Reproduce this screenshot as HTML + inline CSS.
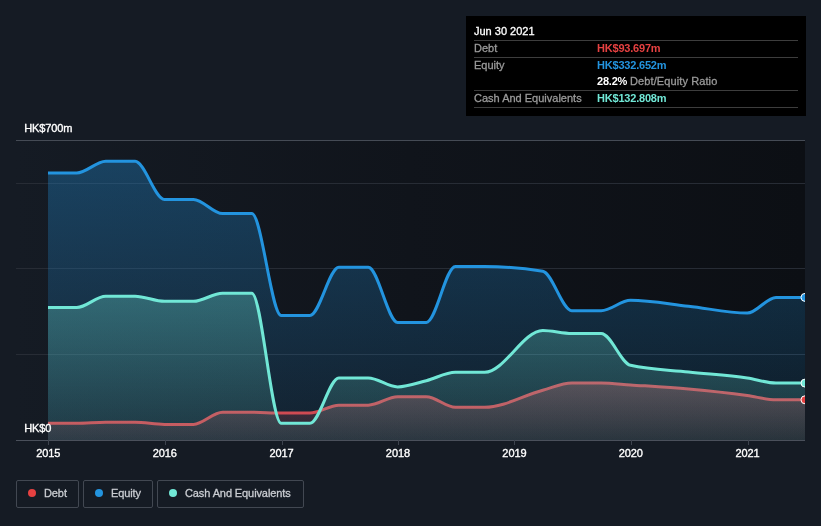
<!DOCTYPE html>
<html><head><meta charset="utf-8"><title>Debt Equity History</title>
<style>
html,body{margin:0;padding:0;background:#151b24;}
body{width:821px;height:526px;overflow:hidden;position:relative;font-family:"Liberation Sans",sans-serif;}
svg{position:absolute;left:0;top:0;display:block}
svg text{font-family:"Liberation Sans",sans-serif;}
.ax{font-size:11px;fill:#ffffff;font-weight:400;stroke:#ffffff;stroke-width:0.35px;letter-spacing:-0.1px}
.tip{position:absolute;left:466px;top:16px;width:340px;height:100px;background:#000;color:#fff;font-size:11px;}
.tip .row{position:absolute;left:8px;right:8px;height:16px;line-height:14px;}
.tip .lab{position:absolute;left:0;top:0;color:#9a9a9a;-webkit-text-stroke:0.3px currentColor}
.tip .val{position:absolute;left:123px;top:0;font-weight:700;letter-spacing:-0.2px}
.tip .sep{position:absolute;left:8px;right:8px;height:1px;background:#3d3d3d}
.legend{position:absolute;top:480px;height:26px;border:1px solid #424852;border-radius:2px;box-sizing:content-box;color:#c9ccd1;font-size:11px;line-height:24px}
.legend i{position:absolute;left:11px;top:8px;width:8px;height:8px;border-radius:50%}
.legend span{position:absolute;left:27px;top:0;white-space:nowrap;-webkit-text-stroke:0.3px currentColor;letter-spacing:-0.1px}
#wrap{position:absolute;left:0;top:0;width:821px;height:526px;will-change:transform}
</style></head><body><div id="wrap">
<svg width="821" height="526" viewBox="0 0 821 526">
<defs>
<linearGradient id="bgp" x1="0" x2="1" y1="0" y2="0"><stop offset="0" stop-color="#151b24"/><stop offset="0.5" stop-color="#10141b"/><stop offset="1" stop-color="#0c0f14"/></linearGradient>
<linearGradient id="gE" x1="0" x2="0" y1="161" y2="440" gradientUnits="userSpaceOnUse"><stop offset="0" stop-color="#2394df" stop-opacity="0.33"/><stop offset="1" stop-color="#2394df" stop-opacity="0.09"/></linearGradient>
<linearGradient id="gC" x1="0" x2="0" y1="293" y2="440" gradientUnits="userSpaceOnUse"><stop offset="0" stop-color="#71e7d6" stop-opacity="0.30"/><stop offset="1" stop-color="#71e7d6" stop-opacity="0.10"/></linearGradient>
<linearGradient id="gD" x1="0" x2="0" y1="383" y2="440" gradientUnits="userSpaceOnUse"><stop offset="0" stop-color="#e64141" stop-opacity="0.34"/><stop offset="1" stop-color="#e64141" stop-opacity="0.09"/></linearGradient>
<clipPath id="cp"><rect x="16" y="130" width="789" height="320"/></clipPath>
</defs>
<rect x="16" y="141" width="789" height="299" fill="url(#bgp)"/>
<g stroke="#272c35" stroke-width="1">
<line x1="16" x2="805" y1="183.5" y2="183.5"/>
<line x1="16" x2="805" y1="268.5" y2="268.5"/>
<line x1="16" x2="805" y1="354.5" y2="354.5"/>
</g>
<line x1="16" x2="805" y1="140.5" y2="140.5" stroke="#454b55" stroke-width="1"/>
<g clip-path="url(#cp)">
<path d="M48.00,423.30C57.57,423.30,67.14,423.30,76.71,423.30C86.39,423.30,96.06,422.30,105.74,422.30C115.52,422.30,125.31,422.30,135.09,422.30C144.87,422.30,154.65,424.40,164.44,424.40C174.11,424.40,183.79,424.40,193.47,424.40C203.14,424.40,212.82,412.30,222.50,412.30C232.28,412.30,242.06,412.30,251.84,412.30C261.63,412.30,271.41,413.00,281.19,413.00C290.76,413.00,300.33,413.00,309.90,413.00C319.58,413.00,329.26,405.20,338.93,405.20C348.72,405.20,358.50,405.20,368.28,405.20C378.06,405.20,387.85,396.70,397.63,396.70C407.20,396.70,416.77,396.70,426.34,396.70C436.02,396.70,445.69,407.30,455.37,407.30C465.15,407.30,474.94,407.30,484.72,407.30C504.07,407.30,523.42,395.30,542.78,390.20C552.45,387.65,562.13,383.00,571.81,383.00C581.59,383.00,591.37,383.00,601.16,383.00C610.94,383.00,620.72,384.25,630.50,384.90C649.86,386.19,669.21,387.25,688.56,389.00C708.13,390.77,727.69,392.82,747.26,395.50C756.83,396.81,766.40,399.80,775.97,399.80C785.65,399.80,795.32,399.80,805.00,399.80L805,440L48,440Z" fill="url(#gD)"/>
<path d="M48.00,423.30C57.57,423.30,67.14,423.30,76.71,423.30C86.39,423.30,96.06,422.30,105.74,422.30C115.52,422.30,125.31,422.30,135.09,422.30C144.87,422.30,154.65,424.40,164.44,424.40C174.11,424.40,183.79,424.40,193.47,424.40C203.14,424.40,212.82,412.30,222.50,412.30C232.28,412.30,242.06,412.30,251.84,412.30C261.63,412.30,271.41,413.00,281.19,413.00C290.76,413.00,300.33,413.00,309.90,413.00C319.58,413.00,329.26,405.20,338.93,405.20C348.72,405.20,358.50,405.20,368.28,405.20C378.06,405.20,387.85,396.70,397.63,396.70C407.20,396.70,416.77,396.70,426.34,396.70C436.02,396.70,445.69,407.30,455.37,407.30C465.15,407.30,474.94,407.30,484.72,407.30C504.07,407.30,523.42,395.30,542.78,390.20C552.45,387.65,562.13,383.00,571.81,383.00C581.59,383.00,591.37,383.00,601.16,383.00C610.94,383.00,620.72,384.25,630.50,384.90C649.86,386.19,669.21,387.25,688.56,389.00C708.13,390.77,727.69,392.82,747.26,395.50C756.83,396.81,766.40,399.80,775.97,399.80C785.65,399.80,795.32,399.80,805.00,399.80" fill="none" stroke="#e64141" stroke-width="3" stroke-linejoin="round"/>
<path d="M48.00,173.00C57.57,173.00,67.14,173.00,76.71,173.00C86.39,173.00,96.06,161.30,105.74,161.30C115.52,161.30,125.31,161.30,135.09,161.30C144.87,161.30,154.65,199.40,164.44,199.40C174.11,199.40,183.79,199.40,193.47,199.40C203.14,199.40,212.82,213.60,222.50,213.60C232.28,213.60,242.06,213.60,251.84,213.60C261.63,213.60,271.41,315.50,281.19,315.50C290.76,315.50,300.33,315.50,309.90,315.50C319.58,315.50,329.26,267.30,338.93,267.30C348.72,267.30,358.50,267.30,368.28,267.30C378.06,267.30,387.85,322.40,397.63,322.40C407.20,322.40,416.77,322.40,426.34,322.40C436.02,322.40,445.69,266.50,455.37,266.50C465.15,266.50,474.94,266.50,484.72,266.50C504.07,266.50,523.42,268.07,542.78,271.20C552.45,272.77,562.13,310.70,571.81,310.70C581.59,310.70,591.37,310.70,601.16,310.70C610.94,310.70,620.72,300.20,630.50,300.20C649.86,300.20,669.21,304.06,688.56,306.20C708.13,308.36,727.69,313.10,747.26,313.10C756.83,313.10,766.40,297.40,775.97,297.40C785.65,297.40,795.32,297.40,805.00,297.40L805,440L48,440Z" fill="url(#gE)"/>
<path d="M48.00,173.00C57.57,173.00,67.14,173.00,76.71,173.00C86.39,173.00,96.06,161.30,105.74,161.30C115.52,161.30,125.31,161.30,135.09,161.30C144.87,161.30,154.65,199.40,164.44,199.40C174.11,199.40,183.79,199.40,193.47,199.40C203.14,199.40,212.82,213.60,222.50,213.60C232.28,213.60,242.06,213.60,251.84,213.60C261.63,213.60,271.41,315.50,281.19,315.50C290.76,315.50,300.33,315.50,309.90,315.50C319.58,315.50,329.26,267.30,338.93,267.30C348.72,267.30,358.50,267.30,368.28,267.30C378.06,267.30,387.85,322.40,397.63,322.40C407.20,322.40,416.77,322.40,426.34,322.40C436.02,322.40,445.69,266.50,455.37,266.50C465.15,266.50,474.94,266.50,484.72,266.50C504.07,266.50,523.42,268.07,542.78,271.20C552.45,272.77,562.13,310.70,571.81,310.70C581.59,310.70,591.37,310.70,601.16,310.70C610.94,310.70,620.72,300.20,630.50,300.20C649.86,300.20,669.21,304.06,688.56,306.20C708.13,308.36,727.69,313.10,747.26,313.10C756.83,313.10,766.40,297.40,775.97,297.40C785.65,297.40,795.32,297.40,805.00,297.40" fill="none" stroke="#2394df" stroke-width="3" stroke-linejoin="round"/>
<path d="M48.00,307.50C57.57,307.50,67.14,307.50,76.71,307.50C86.39,307.50,96.06,296.20,105.74,296.20C115.52,296.20,125.31,296.20,135.09,296.20C144.87,296.20,154.65,301.30,164.44,301.30C174.11,301.30,183.79,301.30,193.47,301.30C203.14,301.30,212.82,293.20,222.50,293.20C232.28,293.20,242.06,293.20,251.84,293.20C261.63,293.20,271.41,423.30,281.19,423.30C290.76,423.30,300.33,423.30,309.90,423.30C319.58,423.30,329.26,378.00,338.93,378.00C348.72,378.00,358.50,378.00,368.28,378.00C378.06,378.00,387.85,386.90,397.63,386.90C407.20,386.90,416.77,383.12,426.34,380.70C436.02,378.26,445.69,372.30,455.37,372.30C465.15,372.30,474.94,372.30,484.72,372.30C504.07,372.30,523.42,330.50,542.78,330.50C552.45,330.50,562.13,333.50,571.81,333.50C581.59,333.50,591.37,333.50,601.16,333.50C610.94,333.50,620.72,363.04,630.50,365.30C649.86,369.77,669.21,369.89,688.56,372.00C708.13,374.13,727.69,375.01,747.26,378.00C756.83,379.46,766.40,383.10,775.97,383.10C785.65,383.10,795.32,383.10,805.00,383.10L805,440L48,440Z" fill="url(#gC)"/>
<path d="M48.00,307.50C57.57,307.50,67.14,307.50,76.71,307.50C86.39,307.50,96.06,296.20,105.74,296.20C115.52,296.20,125.31,296.20,135.09,296.20C144.87,296.20,154.65,301.30,164.44,301.30C174.11,301.30,183.79,301.30,193.47,301.30C203.14,301.30,212.82,293.20,222.50,293.20C232.28,293.20,242.06,293.20,251.84,293.20C261.63,293.20,271.41,423.30,281.19,423.30C290.76,423.30,300.33,423.30,309.90,423.30C319.58,423.30,329.26,378.00,338.93,378.00C348.72,378.00,358.50,378.00,368.28,378.00C378.06,378.00,387.85,386.90,397.63,386.90C407.20,386.90,416.77,383.12,426.34,380.70C436.02,378.26,445.69,372.30,455.37,372.30C465.15,372.30,474.94,372.30,484.72,372.30C504.07,372.30,523.42,330.50,542.78,330.50C552.45,330.50,562.13,333.50,571.81,333.50C581.59,333.50,591.37,333.50,601.16,333.50C610.94,333.50,620.72,363.04,630.50,365.30C649.86,369.77,669.21,369.89,688.56,372.00C708.13,374.13,727.69,375.01,747.26,378.00C756.83,379.46,766.40,383.10,775.97,383.10C785.65,383.10,795.32,383.10,805.00,383.10" fill="none" stroke="#71e7d6" stroke-width="3" stroke-linejoin="round"/>
<circle cx="805" cy="297.4" r="4" fill="#2394df" stroke="#fff" stroke-width="1"/>
<circle cx="805" cy="383.1" r="4" fill="#71e7d6" stroke="#fff" stroke-width="1"/>
<circle cx="805" cy="399.8" r="4" fill="#e64141" stroke="#fff" stroke-width="1"/>
</g>
<line x1="16" x2="805" y1="440.5" y2="440.5" stroke="#4a505b" stroke-width="1"/>
<line x1="48.5" x2="48.5" y1="440" y2="445" stroke="#3d434e" stroke-width="1"/><line x1="165.5" x2="165.5" y1="440" y2="445" stroke="#3d434e" stroke-width="1"/><line x1="282.5" x2="282.5" y1="440" y2="445" stroke="#3d434e" stroke-width="1"/><line x1="398.5" x2="398.5" y1="440" y2="445" stroke="#3d434e" stroke-width="1"/><line x1="514.5" x2="514.5" y1="440" y2="445" stroke="#3d434e" stroke-width="1"/><line x1="631.5" x2="631.5" y1="440" y2="445" stroke="#3d434e" stroke-width="1"/><line x1="748.5" x2="748.5" y1="440" y2="445" stroke="#3d434e" stroke-width="1"/>
<text x="48.3" y="457" text-anchor="middle" class="ax">2015</text><text x="164.8" y="457" text-anchor="middle" class="ax">2016</text><text x="281.5" y="457" text-anchor="middle" class="ax">2017</text><text x="397.9" y="457" text-anchor="middle" class="ax">2018</text><text x="514.4" y="457" text-anchor="middle" class="ax">2019</text><text x="630.8" y="457" text-anchor="middle" class="ax">2020</text><text x="747.6" y="457" text-anchor="middle" class="ax">2021</text>
<text x="24.2" y="132" class="ax">HK$700m</text>
<text x="24.2" y="432" class="ax">HK$0</text>
</svg>
<div class="tip">
<div class="row" style="top:8px"><span class="lab" style="color:#fff">Jun 30 2021</span></div>
<div class="sep" style="top:24px"></div>
<div class="row" style="top:25px"><span class="lab">Debt</span><span class="val" style="color:#e64141">HK$93.697m</span></div>
<div class="sep" style="top:41px"></div>
<div class="row" style="top:42px"><span class="lab">Equity</span><span class="val" style="color:#2394df">HK$332.652m</span></div>
<div class="row" style="top:58px"><span class="val" style="color:#fff">28.2% <span style="color:#9a9a9a;font-weight:400;letter-spacing:0.1px;-webkit-text-stroke:0.3px #9a9a9a">Debt/Equity Ratio</span></span></div>
<div class="sep" style="top:74px"></div>
<div class="row" style="top:75px"><span class="lab">Cash And Equivalents</span><span class="val" style="color:#71e7d6">HK$132.808m</span></div>
<div class="sep" style="top:91px"></div>
</div>
<div class="legend" style="left:16px;width:61px"><i style="background:#e64141"></i><span>Debt</span></div>
<div class="legend" style="left:83px;width:68px"><i style="background:#2394df"></i><span>Equity</span></div>
<div class="legend" style="left:157px;width:145px"><i style="background:#71e7d6"></i><span>Cash And Equivalents</span></div>
</div></body></html>
